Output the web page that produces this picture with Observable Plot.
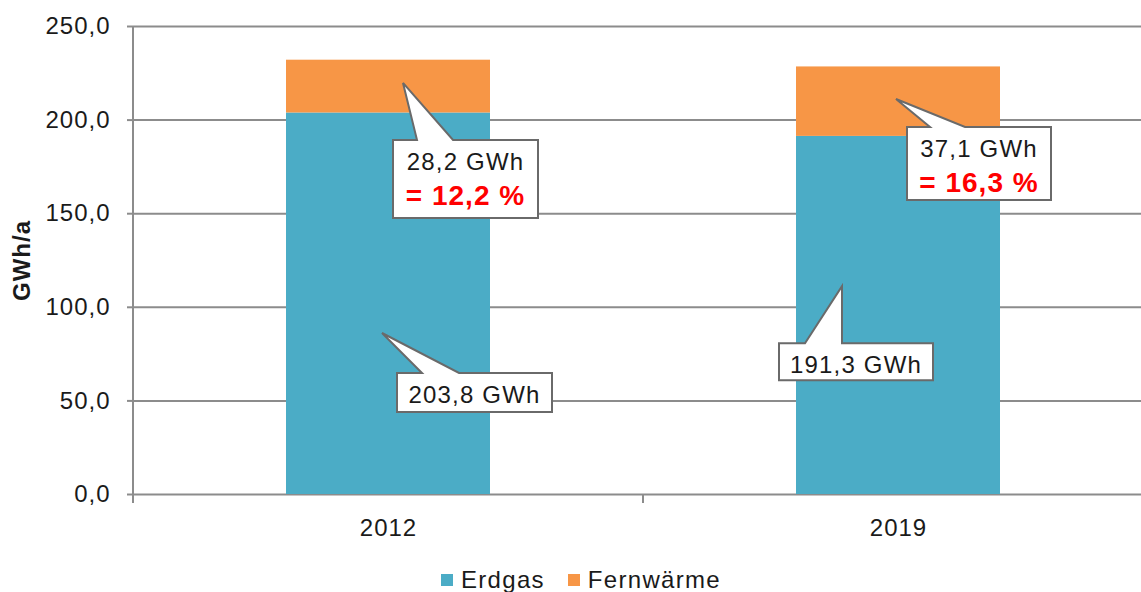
<!DOCTYPE html>
<html><head><meta charset="utf-8">
<script src="https://cdn.jsdelivr.net/npm/d3@7"></script>
<script src="https://cdn.jsdelivr.net/npm/@observablehq/plot@0.6"></script>
<style>
html,body{margin:0;padding:0;background:#fff;overflow:hidden;width:1141px;height:592px;}
#chart{position:relative;width:1141px;height:592px;font-family:"Liberation Sans",Arial,sans-serif;}
#chart svg{overflow:hidden;}
#chart [aria-label="y-axis tick"]{stroke:#8c8c8c;stroke-width:2px;}
#legend{position:absolute;left:441px;top:566px;height:28px;display:flex;align-items:center;font-size:24px;letter-spacing:1.3px;color:#1a1a1a;white-space:nowrap;}
#legend .item{display:flex;align-items:center;margin-right:23px;}
#legend .sw{display:inline-block;width:12px;height:12px;margin-right:8px;}
</style></head><body><div id="chart"></div>
<script>
// ---- data ----
const years = ["2012", "2019"];
const erdgas = [203.8, 191.3];
const fernwaerme = [28.2, 37.1];
const seriesNames = ["Erdgas", "Fernwärme"];
const seriesColors = ["#4BACC6", "#F79646"];
const yTicks = [0, 50, 100, 150, 200, 250];
const yLabel = "GWh/a";
// callouts (anchored at year / value of pointer tip)
const calloutYear = ["2012", "2012", "2019", "2019"];
const calloutValue = [219.6, 86, 111, 211];
const calloutLine1 = ["28,2 GWh", "203,8 GWh", "191,3 GWh", "37,1 GWh"];
const calloutLine2 = ["= 12,2 %", "", "", "= 16,3 %"];
// callout layout: pixel offsets relative to the pointer tip
const calloutLayout = [
  {tipDx: 15,  box: [-10, 135, 57, 135], base: [14, 50]},
  {tipDx: -6,  box: [15, 170, 40, 79],   base: [40, 77]},
  {tipDx: -56, box: [-63, 91, 57, 94],   base: [-37, 0]},
  {tipDx: -2,  box: [11, 155, 28, 101],  base: [34, 69]}
];

const rows = [];
years.forEach((yr, i) => rows.push({year: yr, series: seriesNames[0], value: erdgas[i]}));
years.forEach((yr, i) => rows.push({year: yr, series: seriesNames[1], value: fernwaerme[i]}));

const callouts = calloutYear.map((yr, i) => ({year: yr, value: calloutValue[i], l1: calloutLine1[i], l2: calloutLine2[i], lay: calloutLayout[i]}));

function decorations(index, scales, values, dimensions) {
  const {x, y} = scales;
  const bw = typeof x.bandwidth === "function" ? x.bandwidth() : (x.bandwidth || 0);
  const g = d3.create("svg:g");
  const left = dimensions.marginLeft, right = dimensions.width - dimensions.marginRight;
  const y0 = y(0);
  // left axis line
  g.append("line").attr("x1", left).attr("x2", left).attr("y1", y(250)).attr("y2", y0 + 9)
    .attr("stroke", "#8c8c8c").attr("stroke-width", 2);
  // category boundary ticks
  const centers = years.map(d => x(d) + bw / 2);
  const bounds = [left];
  for (let i = 1; i < centers.length; i++) bounds.push((centers[i - 1] + centers[i]) / 2);
  bounds.push(right);
  bounds.forEach(b => g.append("line").attr("x1", b).attr("x2", b).attr("y1", y0).attr("y2", y0 + 9)
    .attr("stroke", "#8c8c8c").attr("stroke-width", 2));
  // callouts
  callouts.forEach(c => {
    const tx = x(c.year) + bw / 2 + c.lay.tipDx, ty = y(c.value);
    const [bx0, bx1, by0, by1] = c.lay.box.map((v, k) => (k < 2 ? tx + v : ty + v));
    const [b0, b1] = c.lay.base.map(v => tx + v);
    const path = `M${bx0},${by0}L${b0},${by0}L${tx},${ty}L${b1},${by0}L${bx1},${by0}L${bx1},${by1}L${bx0},${by1}Z`;
    g.append("path").attr("d", path).attr("fill", "white").attr("stroke", "#6a6a6a")
      .attr("stroke-width", 2).attr("stroke-linejoin", "miter");
    const cx = (bx0 + bx1) / 2;
    g.append("text").attr("x", cx).attr("y", by0 + 30).attr("text-anchor", "middle")
      .attr("font-size", 24).attr("letter-spacing", "1.2px").attr("fill", "#1a1a1a").text(c.l1);
    if (c.l2) {
      g.append("text").attr("x", cx).attr("y", by0 + 65).attr("text-anchor", "middle")
        .attr("font-size", 28).attr("font-weight", "bold").attr("letter-spacing", "1px")
        .attr("fill", "#FF0000").text(c.l2);
    }
  });
  return g.node();
}

const plot = Plot.plot({
  width: 1141,
  height: 552,
  marginTop: 26,
  marginBottom: 58,
  marginLeft: 133,
  marginRight: -12,
  style: {fontFamily: "'Liberation Sans', Arial, sans-serif", fontSize: "24px", color: "#1a1a1a", background: "white", letterSpacing: "1px", overflow: "hidden"},
  x: {domain: years, paddingInner: 0.6, paddingOuter: 0.3, label: null, tickSize: 0, tickPadding: 24},
  y: {domain: [0, 250], ticks: yTicks, tickFormat: d => d.toFixed(1).replace(".", ","), tickSize: 6, tickPadding: 17, label: null},
  color: {domain: seriesNames, range: seriesColors},
  marks: [
    Plot.ruleY(yTicks, {stroke: "#8c8c8c", strokeWidth: 2}),
    Plot.barY(rows, {x: "year", y: "value", fill: "series"}),
    Plot.text([yLabel], {text: d => d, frameAnchor: "left", textAnchor: "middle", dx: -111, rotate: -90, fontWeight: "bold", fontSize: 24}),
    decorations
  ]
});
document.getElementById("chart").appendChild(plot);

const legend = document.createElement("div");
legend.id = "legend";
seriesNames.forEach((s, i) => {
  const it = document.createElement("span");
  it.className = "item";
  const sw = document.createElement("span");
  sw.className = "sw";
  sw.style.background = seriesColors[i];
  it.appendChild(sw);
  it.appendChild(document.createTextNode(s));
  legend.appendChild(it);
});
document.getElementById("chart").appendChild(legend);
</script>
</body></html>
